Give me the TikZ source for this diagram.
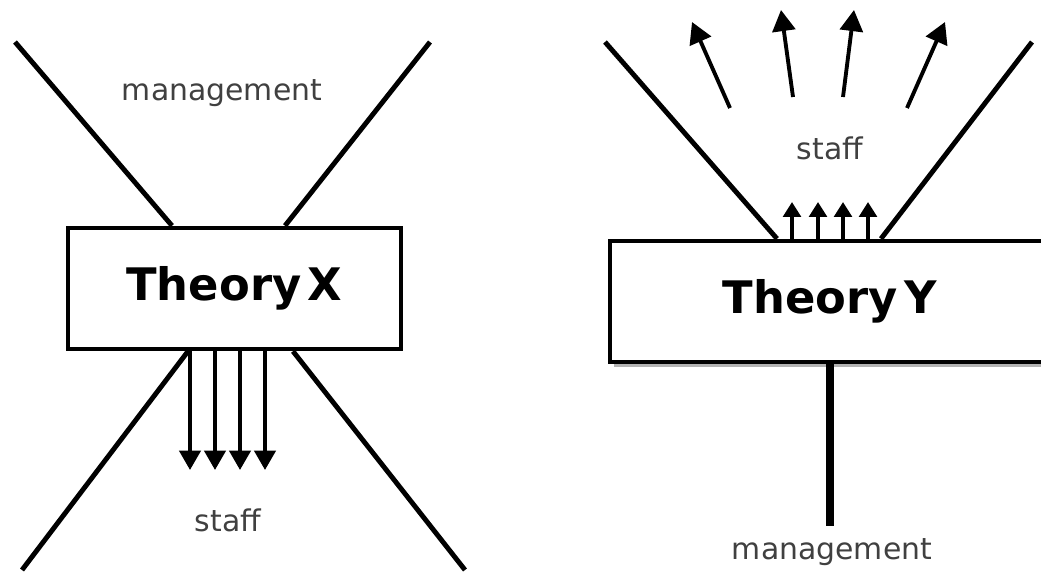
\documentclass[tikz,border=0pt]{standalone}
\usepackage{fontspec}
\setmainfont{DejaVu Sans}
\usetikzlibrary{arrows.meta}

\begin{document}
\begin{tikzpicture}[x=0.02cm, y=-0.02cm,
  theorybox/.style={draw=black, line width=2.6pt, fill=white, inner sep=0pt,
    minimum width=6.66cm, minimum height=2.42cm, font=\bfseries\fontsize{25.5}{30}\selectfont},
  lbl/.style={text=black!75, inner sep=0pt, font=\fontsize{17}{20}\selectfont},
  bar/.style={line width=2.8pt},
  downarr/.style={line width=2.2pt, -{Triangle[length=11pt, width=12pt]}},
  uparr/.style={line width=2.2pt, -{Triangle[length=8.5pt, width=10pt]}},
  spreadarr/.style={line width=2.2pt, -{Triangle[length=12pt, width=13pt]}}]

     \useasboundingbox (0,0) rectangle (1041,574);

     % Theory X: management on top, arrows down to staff
     \node[theorybox] (bx) at (234.5,288.5) {Theory\hspace{0.15em}X};
     \node[lbl] (mx) at (222,93) {management};
     \node[lbl] (sx) at (228,520) {staff};

     \coordinate (xtl) at (15,42);
     \coordinate (xtr) at (430,42);
     \coordinate (xbl) at (22,570);
     \coordinate (xbr) at (465,570);

     \draw[bar] (xtl) -- (bx.north -| 172,0);
     \draw[bar] (xtr) -- (bx.north -| 285,0);
     \draw[bar] (bx.south -| 188,0) -- (xbl);
     \draw[bar] (bx.south -| 293,0) -- (xbr);

     \foreach \i in {190,215,240,265}
       \draw[downarr] (bx.south -| \i,0) -- (\i,470);

     % Theory Y: staff on top, arrows up, management below
     \fill[black!30] (614,247) rectangle (1050,367);
     \node[theorybox, minimum width=8.8cm] (by) at (830,301.5) {Theory\hspace{0.15em}Y};
     \node[lbl] (sy) at (830,148) {staff};
     \node[lbl] (my) at (832,552) {management};

     \coordinate (ytl) at (605,42);
     \coordinate (ytr) at (1032,42);
     \coordinate (ybot) at (830,526);

     \draw[bar] (ytl) -- (by.north -| 777,0);
     \draw[bar] (ytr) -- (by.north -| 881,0);
     \draw[line width=4pt] (by.south -| 830,0) -- (ybot);

     \foreach \i in {792,818,843,868}
       \draw[uparr] (by.north -| \i,0) -- (\i,202);

     % spreading arrows
     \draw[spreadarr] (730,108) -- (692,22);
     \draw[spreadarr] (793,97) -- (781,10);
     \draw[spreadarr] (843,97) -- (854,10);
     \draw[spreadarr] (907,108) -- (945,22);

\end{tikzpicture}
\end{document}
